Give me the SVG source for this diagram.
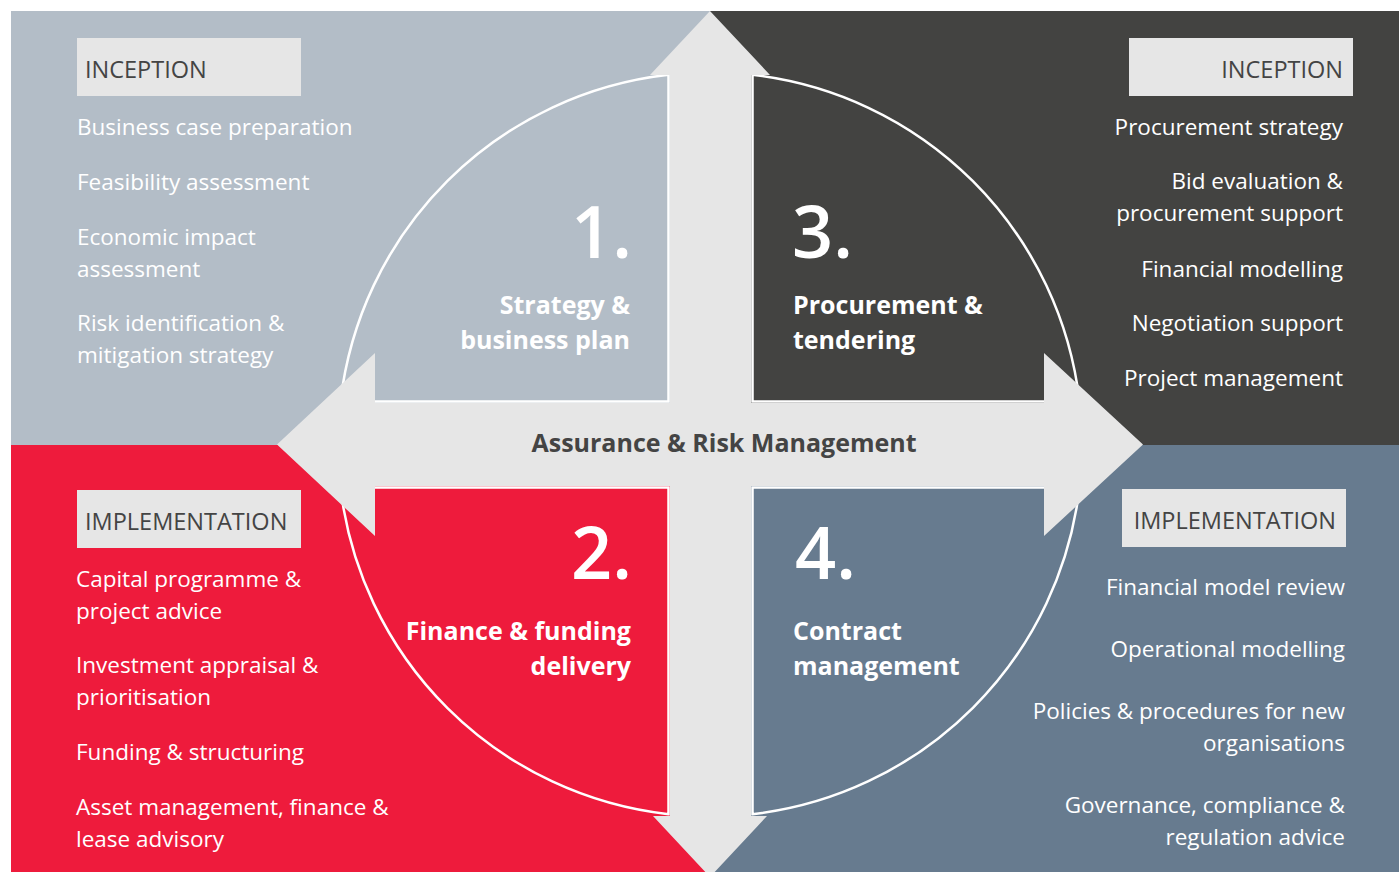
<svg xmlns="http://www.w3.org/2000/svg" width="1399" height="872" viewBox="0 0 1399 872">
<style>
.item{font-family:"Open Sans","Noto Sans",sans-serif;font-size:22.5px;fill:#ffffff}
.hdr{font-family:"Open Sans","Noto Sans",sans-serif;font-size:23.5px;fill:#444444}
.box{fill:#e6e6e6}
.num{font-family:"Open Sans","Noto Sans",sans-serif;font-size:72px;font-weight:600;fill:#ffffff}
.lbl{font-family:"Open Sans","Noto Sans",sans-serif;font-size:25px;font-weight:700;fill:#ffffff}
.sector{stroke:#ffffff;stroke-width:2.5}
.r{text-anchor:end}
</style>
<rect width="1399" height="872" fill="#ffffff"/>
<g id="backgrounds">
<rect x="11" y="11" width="699" height="434" fill="#b3bdc7"/>
<rect x="710" y="11" width="689" height="434" fill="#434341"/>
<rect x="11" y="445" width="699" height="427" fill="#ee1b3c"/>
<rect x="710" y="445" width="689" height="427" fill="#677b8f"/>
</g>
<g id="sector1">
<path class="sector" fill="#b3bdc7" d="M668.5,401.5 V74.8 A372,372 0 0 0 340.5,401.5 Z"/>
</g>
<g id="sector3">
<path class="sector" fill="#434341" d="M752.5,401.5 V74.8 A372,372 0 0 1 1079.5,401.5 Z"/>
</g>
<g id="sector2">
<path class="sector" fill="#ee1b3c" d="M668.5,487.5 H340.5 A372,372 0 0 0 668.5,814.2 Z"/>
</g>
<g id="sector4">
<path class="sector" fill="#677b8f" d="M752.5,487.5 H1079.5 A372,372 0 0 1 752.5,814.2 Z"/>
</g>
<g id="connectors">
<polygon fill="#e6e6e6" points="710,11 770,75 751,75 751,403 1044,403 1044,353 1143,444.5 1044,536 1044,486 751,486 751,816 767,816 710,877 653,816 670,816 670,486 375,486 375,536 277,444.5 375,353 375,403 670,403 670,75 650,75"/>
</g>
<g id="center-label">
<text x="724" y="452" text-anchor="middle" style="font-family:'Open Sans','Noto Sans',sans-serif;font-size:25px;font-weight:700;fill:#444444">Assurance &amp; Risk Management</text>
</g>
<g id="node1">
<text class="num r" x="632" y="258">1.</text>
<text class="lbl r" x="630" y="314">Strategy &amp;</text>
<text class="lbl r" x="630" y="349">business plan</text>
</g>
<g id="node3">
<text class="num" x="792" y="258">3.</text>
<text class="lbl" x="793" y="314">Procurement &amp;</text>
<text class="lbl" x="793" y="349">tendering</text>
</g>
<g id="node2">
<text class="num r" x="632" y="579">2.</text>
<text class="lbl r" x="631" y="640">Finance &amp; funding</text>
<text class="lbl r" x="631" y="675">delivery</text>
</g>
<g id="node4">
<text class="num" x="795" y="579">4.</text>
<text class="lbl" x="793" y="640">Contract</text>
<text class="lbl" x="793" y="675">management</text>
</g>
<g id="list-inception-left">
<rect class="box" x="77" y="38" width="224" height="58"/>
<text class="hdr" x="85" y="78">INCEPTION</text>
<text class="item" x="77" y="135">Business case preparation</text>
<text class="item" x="77" y="190">Feasibility assessment</text>
<text class="item" x="77" y="245">Economic impact</text>
<text class="item" x="77" y="277">assessment</text>
<text class="item" x="77" y="331">Risk identification &amp;</text>
<text class="item" x="77" y="363">mitigation strategy</text>
</g>
<g id="list-inception-right">
<rect class="box" x="1129" y="38" width="224" height="58"/>
<text class="hdr r" x="1343" y="78">INCEPTION</text>
<text class="item r" x="1343" y="135">Procurement strategy</text>
<text class="item r" x="1343" y="189">Bid evaluation &amp;</text>
<text class="item r" x="1343" y="221">procurement support</text>
<text class="item r" x="1343" y="277">Financial modelling</text>
<text class="item r" x="1343" y="331">Negotiation support</text>
<text class="item r" x="1343" y="386">Project management</text>
</g>
<g id="list-implementation-left">
<rect class="box" x="77" y="490" width="224" height="58"/>
<text class="hdr" x="85" y="530">IMPLEMENTATION</text>
<text class="item" x="76" y="587">Capital programme &amp;</text>
<text class="item" x="76" y="619">project advice</text>
<text class="item" x="76" y="673">Investment appraisal &amp;</text>
<text class="item" x="76" y="705">prioritisation</text>
<text class="item" x="76" y="760">Funding &amp; structuring</text>
<text class="item" x="76" y="815">Asset management, finance &amp;</text>
<text class="item" x="76" y="847">lease advisory</text>
</g>
<g id="list-implementation-right">
<rect class="box" x="1122" y="489" width="224" height="58"/>
<text class="hdr r" x="1336" y="529">IMPLEMENTATION</text>
<text class="item r" x="1345" y="595">Financial model review</text>
<text class="item r" x="1345" y="657">Operational modelling</text>
<text class="item r" x="1345" y="719">Policies &amp; procedures for new</text>
<text class="item r" x="1345" y="751">organisations</text>
<text class="item r" x="1345" y="813">Governance, compliance &amp;</text>
<text class="item r" x="1345" y="845">regulation advice</text>
</g>
</svg>
